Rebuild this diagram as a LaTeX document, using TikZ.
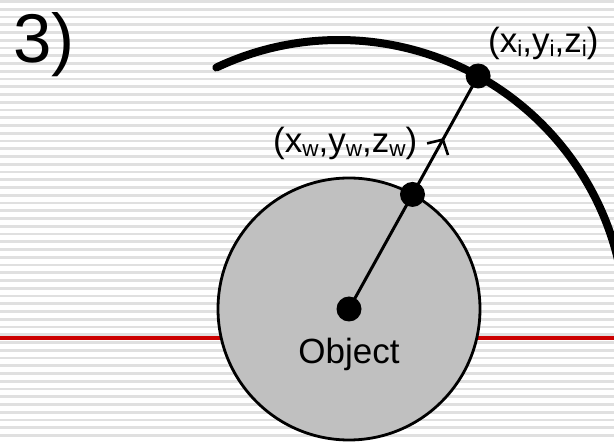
\documentclass[tikz,border=0pt]{standalone}
\usepackage{fontspec}
\setmainfont{Liberation Sans}
\usetikzlibrary{calc,decorations.markings}
\definecolor{stripegray}{HTML}{E0E0E0}
\definecolor{silverfill}{HTML}{C0C0C0}
\definecolor{redline}{HTML}{CC0000}
\newcommand\sbs[1]{\raisebox{-4pt}{\fontsize{22.5}{24}\selectfont #1}}
\tikzset{
  stripe/.style={stripegray, line width=2.6pt},
  dotnode/.style={circle, fill=black, inner sep=0pt, minimum size=25pt},
  lbl/.style={inner sep=0pt, font=\fontsize{35}{40}\selectfont},
  rayline/.style={line width=3pt, postaction={decorate},
    decoration={markings, mark=at position 0.727 with {\draw[line width=2.6pt, line join=miter] (-11pt,12pt) -- (0,0) -- (-11pt,-12pt);}}}
}
\begin{document}
\begin{tikzpicture}[x=1pt,y=1pt]
\useasboundingbox (0,0) rectangle (614,442);
\clip (0,0) rectangle (614,442);
\fill[white] (0,0) rectangle (614,442);
\foreach \k in {0,...,57}{
  \pgfmathsetmacro{\yy}{440.5-7.75*\k}
  \draw[stripe] (0,\yy) -- (614,\yy);
}
\draw[redline, line width=3.4pt] (0,104) -- (614,104);
% object sphere
\node[circle, draw=black, line width=2.8pt, fill=silverfill, minimum size=262pt, inner sep=0pt] (sphere) at (349,133) {};
% image surface arc
\draw[line width=8pt, line cap=round] ($(339,115)+(115.3:287)$) arc[start angle=115.3, end angle=10, radius=287];
% points
\node[dotnode] (obj) at (349,133) {};
\node[dotnode] (pi) at ($(339,115)+(61:287)$) {};
\node[dotnode] (pw) at ($(obj.center)!131pt!(pi.center)$) {};
\draw[rayline] (obj.center) -- (pi.center);
% labels
\node[lbl, anchor=base west, font=\fontsize{69}{80}\selectfont] (num) at (13,379) {3)};
\node[lbl, anchor=base west] (lw) at (273,289) {(x\sbs{w},y\sbs{w},z\sbs{w})};
\node[lbl, anchor=base west] (li) at (488,389) {(x\sbs{i},y\sbs{i},z\sbs{i})};
\node[lbl, anchor=base] (lo) at (349,78) {Object};
\end{tikzpicture}
\end{document}
